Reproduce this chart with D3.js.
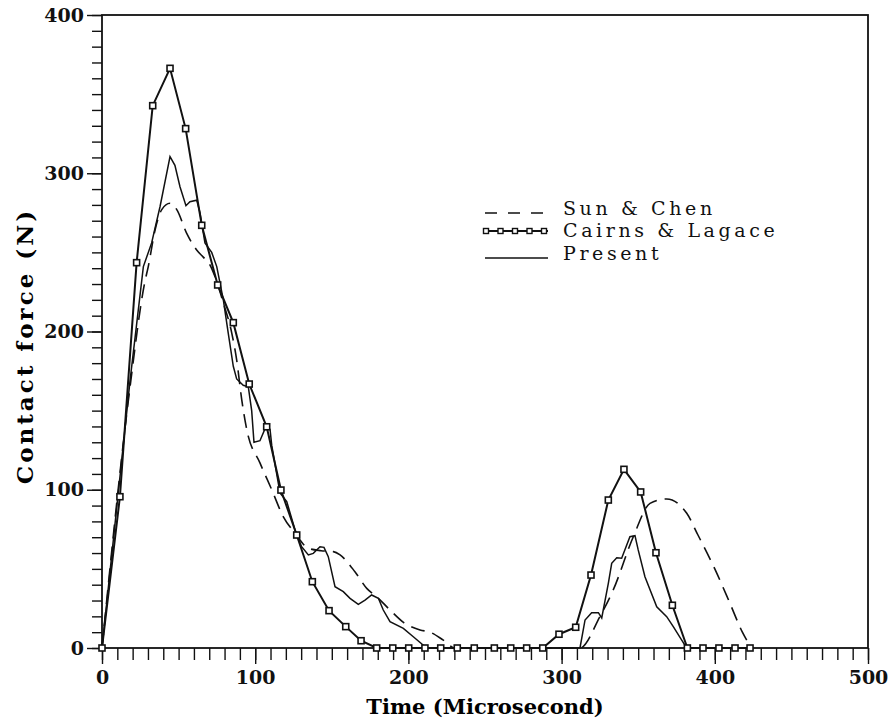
<!DOCTYPE html>
<meta charset="utf-8">
<style>
    body {
        margin: 0;
        background: #fff;
    }

    .tick text {
        font-family: "DejaVu Serif", serif;
        font-weight: bold;
        fill: #111;
    }

    .legend text {
        font-family: "DejaVu Serif", serif;
        font-size: 19px;
        letter-spacing: 3.6px;
        fill: #111;
    }
</style>

<body>
    <script src="https://d3js.org/d3.v7.min.js"></script>

    <svg width="892" height="727"></svg>
    <script>
        // values (time in microseconds, force in N)
        var sunTime = [0, 18.3, 28.1, 30.2, 34.6, 39, 44.4, 48.8, 55.3, 61.8, 66.1, 70.5, 73.8, 79.2, 84.7, 87.9, 91.2, 94.5,
            103.1, 110.8, 118.3, 126, 134.7, 143, 151, 155.4, 165.1, 172.8, 179.3, 188, 197, 207.6, 214.1, 222.8, 230.4,
            312, 325, 333.7, 346.8, 357.7, 368.6, 381.7, 389, 400, 410, 418, 424];
        var sunForce = [0, 165, 232, 241, 264, 277, 281, 277, 262, 251.5, 247, 242, 234.6, 218, 199, 182, 157, 138,
            117, 100, 83, 72.5, 63, 61.5, 60.9, 58.8, 48.2, 37.7, 32.4, 24, 16, 11.4, 10, 5, 0,
            0, 19.8, 36.7, 70.3, 91.4, 94.2, 85.1, 71.4, 50, 28, 10, 0];

        var cairnsTime = [0, 11.7, 22.6, 33.1, 44.4, 54.6, 65.1, 75.5, 85.7, 96.1, 107.5, 116.8, 127.1, 137.3, 148.2,
            159.1, 169.1, 179.3, 189.8, 200.2, 210.8, 221.1, 231.9, 243, 256.1, 266.8, 277.2, 287.7, 298.3, 309.2,
            319.2, 330.5, 340.7, 351.6, 361.6, 372.3, 382.1, 392.3, 402.7, 413.2, 423];
        var cairnsForce = [0, 95.6, 243.5, 342.7, 366.3, 328.2, 267.1, 229.4, 205.6, 166.8, 139.8, 99.8, 71.4, 41.9, 23.6,
            13.5, 4.6, 0, 0, 0, 0, 0, 0, 0, 0, 0, 0, 0, 8.7, 13.1,
            46.1, 93.5, 112.9, 98.6, 60.2, 27, 0, 0, 0, 0, 0];

        var presentTime = [0, 18.3, 27, 32.4, 37.9, 44.4, 47.6, 50.9, 54.8, 57.4, 61.8, 64, 67.2, 71.6, 74.9, 79.2, 82.4,
            85.7, 87.9, 92.2, 95.5, 97.7, 99.2, 103.1, 107.5, 109.7, 110.8, 116.2, 120.6, 126, 130.3, 134.7, 137.9,
            142.3, 144.9, 147.7, 152.1, 157.5, 161.9, 167.3, 171.7, 176, 180.4, 183.6, 188, 196.7, 203.2, 211.9,
            312, 315.3, 319.6, 324, 326.2, 330.5, 332.7, 336, 339.2, 344.6, 347.9, 350, 354.4, 362.1, 368.6, 372.9,
            378.4, 381.7];
        var presentForce = [0, 169, 241, 256, 279, 310.5, 305, 291.5, 279.5, 282, 283, 275, 256, 250, 241, 220, 199,
            178, 170, 166, 165, 150, 130, 131, 141, 138, 128, 98, 92.5, 74.6, 64, 58.8, 59.8,
            64, 63.6, 57.7, 38.7, 35.6, 31.4, 27.6, 30.3, 33.5, 31.4, 24, 16.6, 12.4, 7.1, 0,
            0, 17.7, 22.3, 22.3, 19, 40.9, 53.5, 57, 56.7, 70.3, 71, 62, 45, 26, 19.8, 13.5,
            5, 0];

        var xTicks = [0, 100, 200, 300, 400, 500];
        var yTicks = [0, 100, 200, 300, 400];
        var seriesNames = ["Sun & Chen", "Cairns & Lagace", "Present"];

        var svg = d3.select("svg");

        var x = d3.scaleLinear().domain([0, 500]).range([102, 868]),
            y = d3.scaleLinear().domain([0, 400]).range([648, 15]);

        function pairs(ts, fs) {
            return ts.map(function(t, i) {
                return [t, fs[i]];
            });
        }

        // axes: minor ticks every 10, labelled major ticks every 100
        svg.append("g")
            .attr("transform", "translate(102,0)")
            .call(d3.axisLeft(y).tickValues(d3.range(0, 401, 10)).tickSize(10).tickFormat(""))
            .call(function(g) { g.select(".domain").remove(); });

        svg.append("g")
            .attr("transform", "translate(102,0)")
            .call(d3.axisLeft(y).tickValues(yTicks).tickSize(15).tickPadding(3))
            .call(function(g) { g.select(".domain").remove(); })
            .selectAll("text")
            .style("font-size", "19px");

        svg.append("g")
            .attr("transform", "translate(0,648)")
            .call(d3.axisBottom(x).tickValues(d3.range(0, 501, 10)).tickSize(12).tickFormat(""))
            .call(function(g) { g.select(".domain").remove(); });

        svg.append("g")
            .attr("transform", "translate(0,648)")
            .call(d3.axisBottom(x).tickValues(xTicks).tickSize(16).tickPadding(7))
            .call(function(g) { g.select(".domain").remove(); })
            .selectAll("text")
            .style("font-size", "19px");

        svg.selectAll(".tick line")
            .attr("stroke", "#111")
            .attr("stroke-width", 1.4);

        // frame
        svg.append("rect")
            .attr("x", x(0))
            .attr("y", y(400))
            .attr("width", x(500) - x(0))
            .attr("height", y(0) - y(400))
            .attr("fill", "none")
            .attr("stroke", "#111")
            .attr("stroke-width", 1.8);

        // axis titles
        svg.append("text")
            .attr("x", 485)
            .attr("y", 714)
            .attr("text-anchor", "middle")
            .style("font-family", "'DejaVu Serif', serif")
            .style("font-weight", "bold")
            .style("font-size", "21px")
            .text("Time (Microsecond)");

        svg.append("text")
            .attr("transform", "translate(33,346)rotate(-90)")
            .attr("text-anchor", "middle")
            .style("font-family", "'DejaVu Serif', serif")
            .style("font-weight", "bold")
            .style("font-size", "23px")
            .style("letter-spacing", "3px")
            .text("Contact force (N)");

        var line = d3.line()
            .x(function(d) { return x(d[0]); })
            .y(function(d) { return y(d[1]); });

        svg.append("path")
            .datum(pairs(sunTime, sunForce))
            .attr("fill", "none")
            .attr("stroke", "#111")
            .attr("stroke-width", 1.6)
            .attr("stroke-dasharray", "14,8")
            .attr("d", line.curve(d3.curveMonotoneX));

        svg.append("path")
            .datum(pairs(presentTime, presentForce))
            .attr("fill", "none")
            .attr("stroke", "#111")
            .attr("stroke-width", 1.5)
            .attr("d", line.curve(d3.curveLinear));

        svg.append("path")
            .datum(pairs(cairnsTime, cairnsForce))
            .attr("fill", "none")
            .attr("stroke", "#111")
            .attr("stroke-width", 2)
            .attr("d", line.curve(d3.curveLinear));

        svg.selectAll(".mark")
            .data(pairs(cairnsTime, cairnsForce))
            .enter().append("rect")
            .attr("class", "mark")
            .attr("x", function(d) { return x(d[0]) - 3; })
            .attr("y", function(d) { return y(d[1]) - 3; })
            .attr("width", 6)
            .attr("height", 6)
            .attr("fill", "#fff")
            .attr("stroke", "#111")
            .attr("stroke-width", 1.6);

        // legend
        var legend = svg.append("g").attr("class", "legend");

        legend.append("line")
            .attr("x1", 485).attr("x2", 548)
            .attr("y1", 213).attr("y2", 213)
            .attr("stroke", "#111")
            .attr("stroke-width", 1.5)
            .attr("stroke-dasharray", "12,11");

        legend.append("line")
            .attr("x1", 485).attr("x2", 548)
            .attr("y1", 231).attr("y2", 231)
            .attr("stroke", "#111")
            .attr("stroke-width", 2);

        legend.selectAll(".lmark")
            .data(d3.range(5))
            .enter().append("rect")
            .attr("class", "lmark")
            .attr("x", function(d) { return 486 + d * 14.5 - 2.5; })
            .attr("y", 228.5)
            .attr("width", 5)
            .attr("height", 5)
            .attr("fill", "#fff")
            .attr("stroke", "#111")
            .attr("stroke-width", 1.4);

        legend.append("line")
            .attr("x1", 485).attr("x2", 548)
            .attr("y1", 258).attr("y2", 258)
            .attr("stroke", "#111")
            .attr("stroke-width", 1.3);

        legend.selectAll(".ltext")
            .data(seriesNames)
            .enter().append("text")
            .attr("class", "ltext")
            .attr("x", 563)
            .attr("y", function(d, i) { return 214.5 + i * 22.5; })
            .text(function(d) { return d; });
    </script>
</body>
